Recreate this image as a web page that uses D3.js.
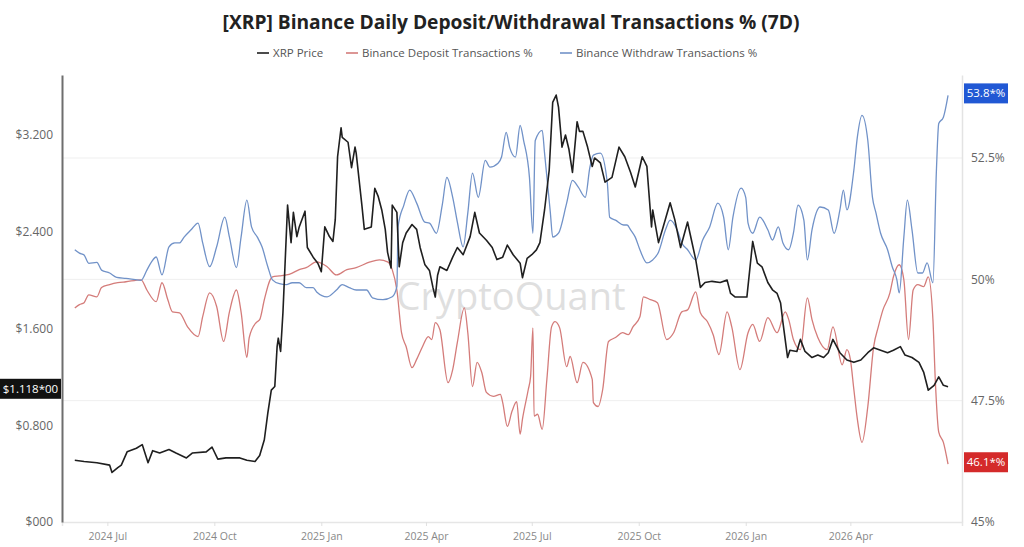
<!DOCTYPE html>
<html>
<head>
<meta charset="utf-8">
<script src="https://cdn.jsdelivr.net/npm/d3@7"></script>
<style>
  html, body { margin: 0; padding: 0; background: #fff; }
  svg { display: block; }
</style>
</head>
<body>
<svg id="chart" width="1024" height="547"></svg>
<script>
// ---------------- DATA ----------------
const titleText = "[XRP] Binance Daily Deposit/Withdrawal Transactions % (7D)";
const seriesNames = ["XRP Price", "Binance Deposit Transactions %", "Binance Withdraw Transactions %"];
const xTickDates = ["2024-07-01","2024-10-01","2025-01-01","2025-04-01","2025-07-01","2025-10-01","2026-01-01","2026-04-01"];
const xTickLabels = ["2024 Jul","2024 Oct","2025 Jan","2025 Apr","2025 Jul","2025 Oct","2026 Jan","2026 Apr"];
const priceTicks = [0, 0.8, 1.6, 2.4, 3.2];
const priceTickLabels = ["$000", "$0.800", "$1.600", "$2.400", "$3.200"];
const pctTicks = [45, 47.5, 50, 52.5];
const pctTickLabels = ["45%", "47.5%", "50%", "52.5%"];
const priceLastLabel = "$1.118*00";
const withdrawLastLabel = "53.8*%";
const depositLastLabel = "46.1*%";

const priceDates = ["2024-06-03","2024-06-11","2024-06-22","2024-07-03","2024-07-05","2024-07-10","2024-07-13","2024-07-18","2024-07-26","2024-07-31",
"2024-08-05","2024-08-09","2024-08-15","2024-08-23","2024-08-29","2024-09-07","2024-09-12","2024-09-24","2024-09-29","2024-10-04",
"2024-10-11","2024-10-23","2024-10-29","2024-11-05","2024-11-09","2024-11-13","2024-11-16","2024-11-19","2024-11-22","2024-11-24",
"2024-11-25","2024-11-27","2024-11-29","2024-12-01","2024-12-03","2024-12-06","2024-12-08","2024-12-11","2024-12-13","2024-12-18",
"2024-12-20","2024-12-25","2024-12-29","2025-01-01","2025-01-04","2025-01-08","2025-01-11","2025-01-13","2025-01-15","2025-01-18",
"2025-01-19","2025-01-24","2025-01-27","2025-01-30","2025-01-31","2025-02-05","2025-02-07","2025-02-13","2025-02-16","2025-02-19",
"2025-02-22","2025-02-25","2025-02-27","2025-03-02","2025-03-03","2025-03-07","2025-03-09","2025-03-12","2025-03-15","2025-03-20",
"2025-03-24","2025-03-27","2025-03-31","2025-04-04","2025-04-07","2025-04-09","2025-04-11","2025-04-13","2025-04-19","2025-04-24",
"2025-04-28","2025-05-03","2025-05-09","2025-05-13","2025-05-17","2025-05-23","2025-05-28","2025-06-01","2025-06-06","2025-06-10",
"2025-06-15","2025-06-21","2025-06-23","2025-06-27","2025-07-01","2025-07-05","2025-07-08","2025-07-12","2025-07-16","2025-07-19",
"2025-07-22","2025-07-24","2025-07-27","2025-07-30","2025-08-02","2025-08-05","2025-08-09","2025-08-11","2025-08-14","2025-08-18",
"2025-08-22","2025-08-24","2025-08-29","2025-09-02","2025-09-08","2025-09-14","2025-09-19","2025-09-24","2025-09-28","2025-10-04",
"2025-10-08","2025-10-12","2025-10-13","2025-10-18","2025-10-22","2025-10-28","2025-11-01","2025-11-06","2025-11-12","2025-11-14",
"2025-11-19","2025-11-23","2025-11-27","2025-12-03","2025-12-10","2025-12-16","2025-12-19","2025-12-23","2025-12-27","2026-01-02",
"2026-01-07","2026-01-11","2026-01-15","2026-01-20","2026-01-24","2026-01-28","2026-01-31","2026-02-02","2026-02-06","2026-02-08",
"2026-02-14","2026-02-17","2026-02-21","2026-02-27","2026-03-04","2026-03-09","2026-03-13","2026-03-17","2026-03-23","2026-03-29",
"2026-04-04","2026-04-10","2026-04-16","2026-04-21","2026-04-27","2026-05-03","2026-05-08","2026-05-14","2026-05-18","2026-05-24",
"2026-05-30","2026-06-03","2026-06-07","2026-06-12","2026-06-16","2026-06-20","2026-06-24"];
const priceValues = [0.51,0.50,0.49,0.47,0.41,0.45,0.47,0.58,0.61,0.64,
0.49,0.59,0.57,0.60,0.57,0.53,0.57,0.58,0.62,0.52,
0.53,0.53,0.51,0.50,0.55,0.68,0.90,1.09,1.12,1.45,
1.52,1.41,1.73,2.17,2.62,2.31,2.56,2.36,2.44,2.57,
2.27,2.19,2.14,2.07,2.44,2.36,2.32,2.50,3.02,3.26,
3.18,3.14,2.93,3.10,3.05,2.61,2.42,2.44,2.76,2.69,
2.58,2.42,2.23,2.10,2.62,2.56,2.11,2.31,2.39,2.46,
2.42,2.27,2.13,2.08,1.94,1.86,2.04,2.11,2.08,2.19,
2.27,2.21,2.36,2.56,2.39,2.33,2.27,2.17,2.19,2.29,
2.21,2.14,2.02,2.18,2.21,2.25,2.31,2.58,2.91,3.47,
3.53,3.43,3.10,3.20,3.08,2.89,3.31,3.23,3.23,3.10,
2.94,3.01,2.97,2.81,2.85,3.10,3.02,2.89,2.77,3.02,
2.94,2.44,2.58,2.31,2.44,2.64,2.50,2.27,2.48,2.39,
2.17,1.94,1.98,1.99,1.98,2.00,1.89,1.86,1.86,1.86,
2.32,2.14,2.11,1.98,1.92,1.89,1.81,1.65,1.36,1.42,
1.41,1.51,1.41,1.36,1.38,1.36,1.40,1.51,1.40,1.34,
1.32,1.34,1.40,1.44,1.42,1.40,1.42,1.45,1.38,1.36,
1.32,1.24,1.09,1.13,1.20,1.13,1.118];

const withdrawDates = ["2024-06-03","2024-06-07","2024-06-11","2024-06-15","2024-06-22","2024-06-26","2024-07-03","2024-07-09","2024-07-17","2024-07-30",
"2024-08-04","2024-08-08","2024-08-12","2024-08-17","2024-08-23","2024-08-28","2024-09-01","2024-09-05","2024-09-11","2024-09-17",
"2024-09-21","2024-09-27","2024-10-03","2024-10-10","2024-10-14","2024-10-20","2024-10-24","2024-10-29","2024-11-02","2024-11-07",
"2024-11-11","2024-11-16","2024-11-20","2024-11-26","2024-12-02","2024-12-07","2024-12-13","2024-12-19","2024-12-25","2024-12-28",
"2025-01-06","2025-01-14","2025-01-19","2025-01-25","2025-01-31","2025-02-09","2025-02-14","2025-02-23","2025-03-03","2025-03-07",
"2025-03-08","2025-03-13","2025-03-18","2025-03-24","2025-03-31","2025-04-04","2025-04-10","2025-04-15","2025-04-19","2025-04-24",
"2025-04-28","2025-05-03","2025-05-07","2025-05-11","2025-05-16","2025-05-22","2025-05-26","2025-06-02","2025-06-05","2025-06-09",
"2025-06-12","2025-06-17","2025-06-21","2025-06-24","2025-06-29","2025-07-02","2025-07-04","2025-07-10","2025-07-12","2025-07-17",
"2025-07-19","2025-07-24","2025-07-31","2025-08-05","2025-08-10","2025-08-16","2025-08-20","2025-08-23","2025-08-29","2025-09-04",
"2025-09-06","2025-09-11","2025-09-18","2025-09-21","2025-09-24","2025-09-28","2025-10-02","2025-10-08","2025-10-13","2025-10-18",
"2025-10-24","2025-10-28","2025-11-03","2025-11-07","2025-11-12","2025-11-19","2025-11-25","2025-12-01","2025-12-08","2025-12-13",
"2025-12-17","2025-12-21","2025-12-28","2026-01-01","2026-01-03","2026-01-07","2026-01-13","2026-01-20","2026-01-24","2026-01-29",
"2026-02-02","2026-02-07","2026-02-11","2026-02-15","2026-02-20","2026-02-23","2026-02-27","2026-03-06","2026-03-13","2026-03-18",
"2026-03-23","2026-03-26","2026-03-29","2026-04-04","2026-04-07","2026-04-11","2026-04-16","2026-04-20","2026-04-23","2026-04-27",
"2026-05-03","2026-05-07","2026-05-11","2026-05-13","2026-05-17","2026-05-20","2026-05-24","2026-05-29","2026-06-02","2026-06-06",
"2026-06-11","2026-06-14","2026-06-16","2026-06-20","2026-06-24"];
const withdrawValues = [50.61,50.54,50.50,50.33,50.35,50.19,50.13,50.04,50.02,49.98,
50.19,50.36,50.46,50.09,50.67,50.75,50.75,50.87,51.02,51.16,
50.75,50.26,50.67,51.28,50.87,50.24,50.87,51.63,51.08,50.87,
50.67,50.26,49.99,49.91,49.89,49.93,49.93,49.83,49.83,49.74,
49.64,49.78,49.89,49.83,49.78,49.78,49.62,49.58,49.64,49.85,
51.08,51.53,51.84,51.57,51.18,51.16,50.95,51.53,52.10,51.69,
51.18,50.67,51.37,52.19,51.69,52.45,52.31,52.39,52.52,53.03,
52.72,52.52,53.17,52.86,52.10,50.95,52.86,53.07,52.60,51.37,
50.87,50.95,51.57,52.04,51.90,51.69,52.31,52.56,52.60,51.98,
51.28,51.22,51.12,51.12,51.02,50.87,50.61,50.34,50.40,50.56,
51.02,51.22,51.02,50.75,50.61,50.40,50.81,51.08,51.57,51.28,
50.61,51.28,51.88,51.69,51.16,50.95,51.28,51.02,50.81,51.08,
50.75,50.61,50.95,51.53,51.22,50.40,51.02,51.49,51.43,50.95,
51.43,51.84,51.43,52.25,52.93,53.38,52.86,51.69,51.37,50.95,
50.61,50.26,49.99,49.72,50.87,51.63,51.02,50.13,50.13,50.34,
49.93,52.25,53.21,53.34,53.79];

const depositDates = ["2024-06-03","2024-06-07","2024-06-11","2024-06-15","2024-06-22","2024-06-26","2024-07-03","2024-07-10","2024-07-17","2024-07-30",
"2024-08-04","2024-08-12","2024-08-17","2024-08-22","2024-08-26","2024-09-01","2024-09-08","2024-09-17","2024-09-21","2024-09-27",
"2024-10-03","2024-10-09","2024-10-14","2024-10-20","2024-10-24","2024-10-29","2024-10-31","2024-11-06","2024-11-09","2024-11-13",
"2024-11-18","2024-11-20","2024-11-26","2024-12-02","2024-12-07","2024-12-13","2024-12-19","2024-12-28","2025-01-06","2025-01-14",
"2025-01-23","2025-01-31","2025-02-12","2025-02-20","2025-02-27","2025-03-03","2025-03-07","2025-03-11","2025-03-15","2025-03-20",
"2025-03-24","2025-03-29","2025-04-03","2025-04-06","2025-04-09","2025-04-13","2025-04-20","2025-04-24","2025-04-28","2025-05-04",
"2025-05-07","2025-05-11","2025-05-15","2025-05-19","2025-05-23","2025-05-29","2025-06-04","2025-06-06","2025-06-10","2025-06-14",
"2025-06-18","2025-06-21","2025-06-23","2025-06-28","2025-06-30","2025-07-02","2025-07-03","2025-07-06","2025-07-10","2025-07-14",
"2025-07-18","2025-07-21","2025-07-25","2025-07-31","2025-08-03","2025-08-09","2025-08-14","2025-08-22","2025-08-23","2025-08-27",
"2025-08-31","2025-09-05","2025-09-11","2025-09-17","2025-09-22","2025-09-26","2025-10-02","2025-10-05","2025-10-11","2025-10-17",
"2025-10-25","2025-10-31","2025-11-07","2025-11-12","2025-11-19","2025-11-23","2025-11-29","2025-12-04","2025-12-09","2025-12-16",
"2025-12-20","2025-12-27","2026-01-03","2026-01-07","2026-01-13","2026-01-20","2026-01-28","2026-02-04","2026-02-07","2026-02-11",
"2026-02-17","2026-02-23","2026-02-27","2026-03-04","2026-03-12","2026-03-17","2026-03-25","2026-03-29","2026-04-01","2026-04-04",
"2026-04-07","2026-04-11","2026-04-16","2026-04-21","2026-04-25","2026-04-29","2026-05-05","2026-05-08","2026-05-13","2026-05-17",
"2026-05-21","2026-05-25","2026-05-29","2026-06-03","2026-06-07","2026-06-11","2026-06-13","2026-06-16","2026-06-20","2026-06-24"];
const depositValues = [49.41,49.48,49.52,49.68,49.64,49.83,49.89,49.93,49.95,49.99,
49.78,49.54,49.93,49.58,49.33,49.31,49.02,48.82,49.23,49.72,
49.44,48.72,49.33,49.78,49.33,48.39,48.80,49.11,49.17,49.58,
49.99,50.05,50.07,50.09,50.13,50.20,50.24,50.36,50.26,50.09,
50.20,50.24,50.36,50.40,50.36,50.20,49.78,48.90,48.61,48.18,
48.35,48.61,48.82,48.76,49.11,48.96,47.87,48.14,48.70,49.41,
48.90,47.79,48.29,48.08,47.67,47.59,47.63,47.46,46.97,47.28,
47.48,46.81,47.12,47.73,48.00,49.00,47.18,47.22,46.91,47.94,
49.02,49.13,49.00,48.20,48.41,47.87,48.29,47.94,47.46,47.38,
47.73,48.72,48.80,48.90,48.86,49.02,49.23,49.64,49.58,49.52,
48.76,48.90,49.33,49.37,49.74,49.31,49.13,48.86,48.45,49.33,
49.02,48.14,48.90,49.07,48.72,49.21,48.90,49.33,49.17,48.76,
48.55,49.62,49.17,48.80,48.55,49.02,48.24,48.55,48.35,47.73,
47.12,46.64,47.38,48.61,49.02,49.37,49.72,50.05,50.30,49.99,
48.76,49.78,49.89,49.85,50.05,49.17,47.94,46.85,46.64,46.19];

// ---------------- LAYOUT ----------------
const W = 1024, H = 547;
const plotLeft = 62, plotRight = 962, plotTop = 75, plotBottom = 522;
const FONT = "'Open Sans', 'Noto Sans', sans-serif";
const colPrice = "#1f1f1f", colDeposit = "#d47c7a", colWithdraw = "#7192c8";

const svg = d3.select("#chart");
const parse = d3.utcParse("%Y-%m-%d");

const x = d3.scaleUtc()
  .domain([parse("2024-05-23"), parse("2026-07-06")])
  .range([plotLeft, plotRight]);
const yPrice = d3.scaleLinear()
  .domain([0, 3.2 * (plotBottom - plotTop) / (plotBottom - 135)])
  .range([plotBottom, plotTop]);
const yPct = d3.scaleLinear()
  .domain([45, 45 + 7.5 * (plotBottom - plotTop) / (plotBottom - 158)])
  .range([plotBottom, plotTop]);

// gridlines (right-axis ticks)
svg.append("g").selectAll("line").data(pctTicks.slice(1)).join("line")
  .attr("x1", plotLeft).attr("x2", plotRight)
  .attr("y1", d => yPct(d)).attr("y2", d => yPct(d))
  .attr("stroke", "#efefef").attr("stroke-width", 1);

// watermark
svg.append("text").attr("x", 511).attr("y", 310)
  .attr("text-anchor", "middle").attr("font-family", FONT)
  .attr("font-size", 38).attr("fill", "#dfdfdf").attr("font-weight", 400)
  .text("CryptoQuant");

// bottom axis
const xAxis = d3.axisBottom(x)
  .tickValues(xTickDates.map(parse))
  .tickFormat((d, i) => xTickLabels[i])
  .tickSize(4).tickPadding(7);
const gx = svg.append("g").attr("transform", `translate(0,${plotBottom})`).call(xAxis);
gx.select(".domain").attr("stroke", "#e6e6e6").attr("stroke-width", 1.5);
gx.selectAll(".tick line").attr("stroke", "#e0e0e0");
gx.selectAll(".tick text").attr("font-family", FONT).attr("font-size", 10.5).attr("fill", "#888");

// left axis
const yAxisL = d3.axisLeft(yPrice)
  .tickValues(priceTicks).tickFormat((d, i) => priceTickLabels[i])
  .tickSize(0).tickPadding(9);
const gl = svg.append("g").attr("transform", `translate(${plotLeft},0)`).call(yAxisL);
gl.select(".domain").attr("stroke", "#6e6e6e").attr("stroke-width", 2);
gl.selectAll(".tick text").attr("font-family", FONT).attr("font-size", 12).attr("fill", "#666");

// right axis
const yAxisR = d3.axisRight(yPct)
  .tickValues(pctTicks).tickFormat((d, i) => pctTickLabels[i])
  .tickSize(0).tickPadding(9);
const gr = svg.append("g").attr("transform", `translate(${plotRight},0)`).call(yAxisR);
gr.select(".domain").attr("stroke", "#e3e3e3").attr("stroke-width", 1.5);
gr.selectAll(".tick text").attr("font-family", FONT).attr("font-size", 12).attr("fill", "#666");

// lines
function mk(dates, vals) { return dates.map((d, i) => ({ date: parse(d), v: vals[i] })); }
const priceData = mk(priceDates, priceValues);
const depositData = mk(depositDates, depositValues);
const withdrawData = mk(withdrawDates, withdrawValues);

const lineDeposit = d3.line().x(d => x(d.date)).y(d => yPct(d.v)).curve(d3.curveMonotoneX);
const lineWithdraw = d3.line().x(d => x(d.date)).y(d => yPct(d.v)).curve(d3.curveMonotoneX);
const linePrice = d3.line().x(d => x(d.date)).y(d => yPrice(d.v)).curve(d3.curveLinear);

svg.append("path").datum(depositData).attr("d", lineDeposit)
  .attr("fill", "none").attr("stroke", colDeposit).attr("stroke-width", 1.3);
svg.append("path").datum(withdrawData).attr("d", lineWithdraw)
  .attr("fill", "none").attr("stroke", colWithdraw).attr("stroke-width", 1.3);
svg.append("path").datum(priceData).attr("d", linePrice)
  .attr("fill", "none").attr("stroke", colPrice).attr("stroke-width", 1.6).attr("stroke-linejoin", "round");

// last-value labels
function valueTag(xLeft, yc, w, txt, bg) {
  const g = svg.append("g");
  g.append("rect").attr("x", xLeft).attr("y", yc - 10).attr("width", w).attr("height", 20).attr("fill", bg);
  g.append("text").attr("x", xLeft + w / 2).attr("y", yc + 4).attr("text-anchor", "middle")
    .attr("font-family", FONT).attr("font-size", 11.5).attr("fill", "#fff").text(txt);
}
const lastP = priceData[priceData.length - 1];
const lastW = withdrawData[withdrawData.length - 1];
const lastD = depositData[depositData.length - 1];
valueTag(0, yPrice(lastP.v) + 2, 61, priceLastLabel, "#111");
valueTag(964, yPct(lastW.v) - 2, 44, withdrawLastLabel, "#2158d4");
valueTag(964, yPct(lastD.v) - 2, 44, depositLastLabel, "#d42a2a");

// title
svg.append("text").attr("x", 511).attr("y", 29).attr("text-anchor", "middle")
  .attr("font-family", FONT).attr("font-weight", 700).attr("font-size", 19.2).attr("fill", "#222")
  .text(titleText);

// legend
const legendItems = [
  { name: seriesNames[0], color: colPrice, x: 257 },
  { name: seriesNames[1], color: colDeposit, x: 346 },
  { name: seriesNames[2], color: colWithdraw, x: 560 }
];
const lg = svg.append("g");
legendItems.forEach(it => {
  lg.append("line").attr("x1", it.x).attr("x2", it.x + 12).attr("y1", 53).attr("y2", 53)
    .attr("stroke", it.color).attr("stroke-width", 1.6);
  lg.append("text").attr("x", it.x + 16).attr("y", 57).attr("font-family", FONT)
    .attr("font-size", 11.5).attr("fill", "#555").text(it.name);
});
</script>
</body>
</html>
